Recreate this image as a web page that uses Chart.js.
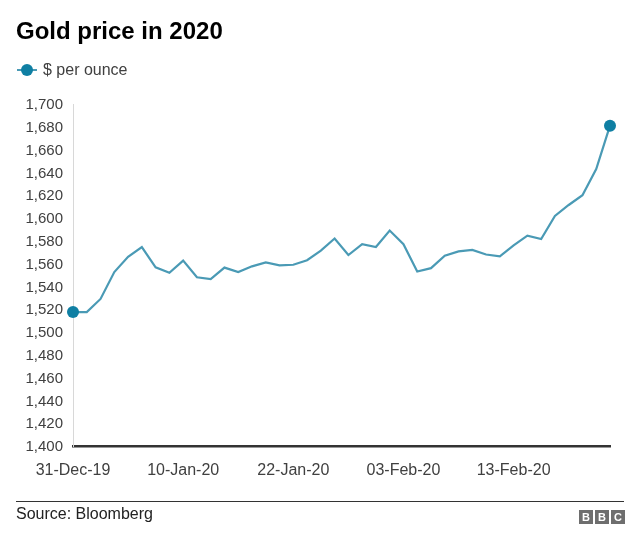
<!DOCTYPE html>
<html>
<head>
<meta charset="utf-8">
<title>Gold price in 2020</title>
<script src="https://cdn.jsdelivr.net/npm/chart.js@4"></script>
<style>
    html, body { margin: 0; padding: 0; background: #fff; }
    body { width: 640px; height: 544px; position: relative; overflow: hidden; font-family: "Liberation Sans", Arial, sans-serif; }
    #goldChart { position: absolute; left: 0; top: 0; }
    .title { position: absolute; left: 16px; top: 17px; font-size: 24px; line-height: 28px; font-weight: bold; color: #000; }
    .legend { position: absolute; left: 43px; top: 60px; font-size: 16px; line-height: 20px; color: #404040; }
    .key-line { position: absolute; left: 17px; top: 69px; width: 20px; height: 2px; background: #4a9ab5; }
    .key-dot { position: absolute; left: 21px; top: 64px; width: 12px; height: 12px; border-radius: 50%; background: #0f7fa3; }
    .rule { position: absolute; left: 16px; top: 501px; width: 608px; height: 1px; background: #333; }
    .source { position: absolute; left: 16px; top: 505px; font-size: 16px; line-height: 18px; color: #222; }
    .bbc { position: absolute; left: 579px; top: 510px; display: flex; gap: 2px; }
    .bbc span { width: 14px; height: 14px; background: #6e6e6e; color: #fff; font-size: 11px; line-height: 14px; font-weight: bold; text-align: center; }
</style>
</head>
<body>
<canvas id="goldChart" width="640" height="544"></canvas>
<div class="title">Gold price in 2020</div>
<div class="key-line"></div>
<div class="key-dot"></div>
<div class="legend">$ per ounce</div>
<div class="rule"></div>
<div class="source">Source: Bloomberg</div>
<div class="bbc"><span>B</span><span>B</span><span>C</span></div>
<script>
const categories = [
    '31-Dec-19', '01-Jan-20', '02-Jan-20', '03-Jan-20', '06-Jan-20', '07-Jan-20', '08-Jan-20', '09-Jan-20',
    '10-Jan-20', '13-Jan-20', '14-Jan-20', '15-Jan-20', '16-Jan-20', '17-Jan-20', '20-Jan-20', '21-Jan-20',
    '22-Jan-20', '23-Jan-20', '24-Jan-20', '27-Jan-20', '28-Jan-20', '29-Jan-20', '30-Jan-20', '31-Jan-20',
    '03-Feb-20', '04-Feb-20', '05-Feb-20', '06-Feb-20', '07-Feb-20', '10-Feb-20', '11-Feb-20', '12-Feb-20',
    '13-Feb-20', '14-Feb-20', '17-Feb-20', '18-Feb-20', '19-Feb-20', '20-Feb-20', '21-Feb-20', '24-Feb-20'
];
const pricePerOunce = [
    1517.5, 1517.5, 1529, 1552.6, 1566, 1574.5, 1556.7, 1552,
    1562.6, 1548, 1546.5, 1556.5, 1552.6, 1557.6, 1561, 1558.5,
    1559, 1563, 1571.4, 1582, 1567.5, 1577, 1574.5, 1589,
    1577, 1553, 1556, 1567, 1570.7, 1572, 1568, 1566.4,
    1576, 1584.5, 1581.6, 1601.8, 1611.4, 1620, 1643, 1681
];
const tickLabels = ['31-Dec-19', '10-Jan-20', '22-Jan-20', '03-Feb-20', '13-Feb-20'];

const lastIndex = pricePerOunce.length - 1;
const ctx = document.getElementById('goldChart').getContext('2d');
const goldChart = new Chart(ctx, {
    type: 'line',
    data: {
        labels: categories,
        datasets: [{
            label: '$ per ounce',
            data: pricePerOunce,
            borderColor: '#4a9ab5',
            borderWidth: 2.2,
            tension: 0,
            clip: false,
            pointBackgroundColor: '#0f7fa3',
            pointBorderWidth: 0,
            pointRadius: c => (c.dataIndex === 0 || c.dataIndex === lastIndex) ? 6 : 0
        }]
    },
    options: {
        responsive: false,
        animation: false,
        layout: { padding: { top: 104, right: 30 } },
        plugins: { legend: { display: false }, tooltip: { enabled: false } },
        scales: {
            x: {
                offset: false,
                afterFit: scale => { scale.height = 98; },
                border: { color: '#333', width: 2.5 },
                grid: { display: false },
                ticks: {
                    autoSkip: false,
                    maxRotation: 0,
                    padding: 7,
                    color: '#404040',
                    font: { family: '"Liberation Sans"', size: 16 },
                    callback: function(value) {
                        const label = this.getLabelForValue(value);
                        return tickLabels.includes(label) ? label : '';
                    }
                }
            },
            y: {
                min: 1400,
                max: 1700,
                afterFit: scale => { scale.width = 73; },
                border: { color: '#d8d8d8', width: 1 },
                grid: { display: false },
                ticks: {
                    stepSize: 20,
                    padding: 2,
                    labelOffset: 1,
                    color: '#404040',
                    font: { family: '"Liberation Sans"', size: 15 },
                    callback: value => value.toLocaleString('en-US')
                }
            }
        }
    }
});
</script>
</body>
</html>
